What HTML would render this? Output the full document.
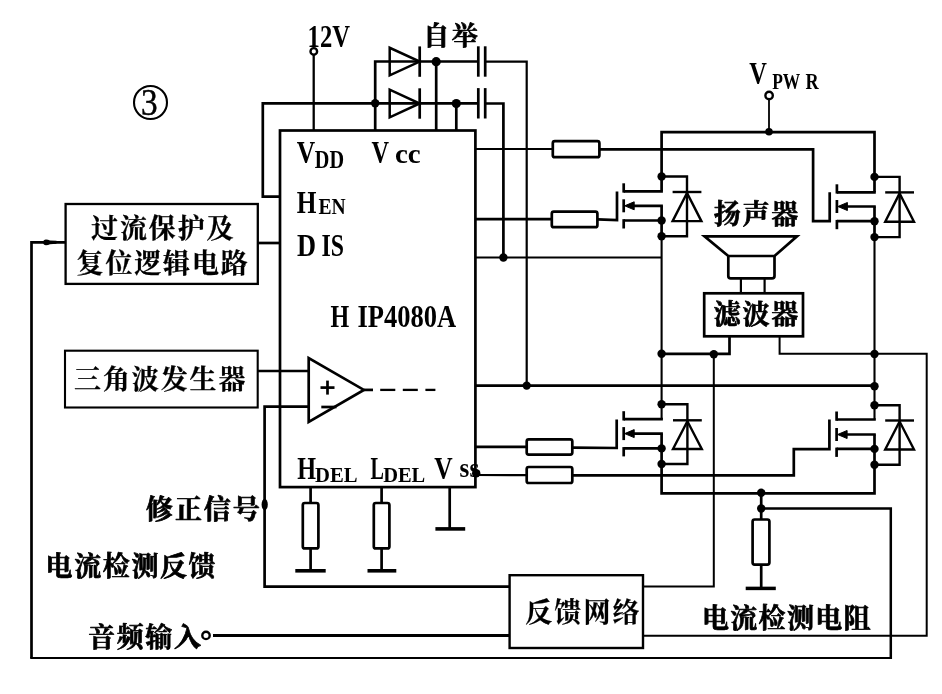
<!DOCTYPE html>
<html lang="zh-CN">
<head>
<meta charset="utf-8">
<title>HIP4080A 电路框图</title>
<style>
html,body{margin:0;padding:0;background:#fff;}
body{width:942px;height:694px;overflow:hidden;}
svg{display:block;position:absolute;left:0;top:0;will-change:transform;}
.w{fill:none;stroke:#000;stroke-width:2.7;stroke-linejoin:miter;stroke-linecap:butt;}
.w .d{fill:#000;stroke:none;}
text{fill:#000;white-space:pre;}
.c{font-family:'Liberation Serif','Noto Serif CJK SC',serif;font-weight:700;stroke:#000;stroke-width:0.7px;stroke-linejoin:round;}
.m{font-family:'Liberation Serif','Noto Serif CJK SC',serif;font-weight:700;stroke:#000;stroke-width:0.25px;stroke-linejoin:round;}
.l{font-family:'Liberation Serif',serif;font-weight:700;}
.l3{font-family:'Liberation Serif',serif;font-weight:400;stroke:#000;stroke-width:0.5px;}
</style>
</head>
<body>
<svg width="942" height="694" viewBox="0 0 942 694">
<g class="w" id="wires">
<rect x="280" y="130.5" width="195.4" height="356.6"/>
<path d="M313.7 54L313.7 130.5" stroke-width="2.3"/>
<circle cx="313.8" cy="51.4" r="3.3" stroke-width="2.4" fill="#fff"/>
<path d="M280 196.6L262.8 196.6L262.8 103.3L478.3 103.3"/>
<path d="M478.3 61.5L375.2 61.5L375.2 130.5"/>
<circle cx="375.2" cy="103.3" r="4.2" class="d"/>
<path d="M389.7 47.8L389.7 75.4L419.7 61.6Z" stroke-width="2.5"/>
<path d="M419.7 46.4L419.7 76.8"/>
<path d="M389.7 89.7L389.7 117.3L419.7 103.5Z" stroke-width="2.5"/>
<path d="M419.7 88.3L419.7 118.7"/>
<circle cx="436.2" cy="61.7" r="4.6" class="d"/>
<path d="M436.2 61.5L436.2 130.5"/>
<circle cx="456.3" cy="103.6" r="4.6" class="d"/>
<path d="M456.3 103.3L456.3 130.5"/>
<path d="M478.3 46.3L478.3 76.7"/>
<path d="M485.2 46.3L485.2 76.7"/>
<path d="M478.3 88.1L478.3 118.5"/>
<path d="M485.2 88.1L485.2 118.5"/>
<path d="M485.2 61.6L526.7 61.6L526.7 385.6" stroke-width="2.2"/>
<path d="M485.2 103.5L503.4 103.5L503.4 257.5"/>
<rect x="65.6" y="204" width="192.2" height="79.9" stroke-width="2.3"/>
<path d="M257.8 243L280 243"/>
<path d="M65.6 242.3L31.5 242.3L31.5 658" stroke-width="2.7"/>
<path d="M30.2 658L890.8 658" stroke-width="2"/>
<path d="M890.8 659L890.8 508.5L761.2 508.5" stroke-width="2.5"/>
<path d="M43 242.3Q43.3 239.4 46 239.4Q48 239.4 50 240.4L56.5 240.8V243.8L50 244.2Q48 245.2 46 245.2Q43.3 245.2 43 242.3Z" class="d"/>
<rect x="65" y="350.7" width="192.7" height="56.8" stroke-width="2.1"/>
<path d="M257.7 371L308.7 371"/>
<path d="M308.7 358L308.7 422L363.9 389.9Z"/>
<path d="M308.7 406.6L264.6 406.6L264.6 586.6L509.6 586.6"/>
<ellipse cx="264.7" cy="504.5" rx="3.1" ry="5.8" class="d"/>
<path d="M321.3 407L336.5 407"/>
<path d="M320.5 387.6L334.5 387.6"/>
<path d="M327.5 380.6L327.5 394.6"/>
<path d="M363.9 389.9L373 389.9"/>
<path d="M380.2 389.9L395.3 389.9" stroke-width="2.3"/>
<path d="M402.8 389.9L417.8 389.9" stroke-width="2.3"/>
<path d="M425.4 389.9L435.4 389.9" stroke-width="2.3"/>
<path d="M475 149L552.8 149" stroke-width="2.1"/>
<rect x="552.8" y="141.2" width="46.6" height="16" rx="2"/>
<path d="M599.4 149.4L813.1 149.4L813.1 221.2L829.7 221.2L829.7 192.3"/>
<path d="M475 219.1L551.8 219.1"/>
<rect x="551.8" y="211.6" width="45.6" height="15.6" rx="2"/>
<path d="M597.4 219.4L617 220L617 191.6"/>
<path d="M475 257.5L661.6 257.5" stroke-width="2.1"/>
<circle cx="503.4" cy="257.5" r="4.2" class="d"/>
<path d="M475 385.6L874.5 385.6"/>
<circle cx="526.7" cy="385.6" r="4.2" class="d"/>
<circle cx="874.5" cy="386.3" r="4.2" class="d"/>
<path d="M475 446.8L526.7 446.8"/>
<rect x="526.7" y="439.4" width="45.6" height="15.2" rx="2"/>
<path d="M572.3 447.6L616.7 448L616.7 419.5"/>
<circle cx="476.2" cy="473.2" r="4.2" class="d"/>
<path d="M475 475L526.7 475.2" stroke-width="2.2"/>
<rect x="526.7" y="467" width="45.6" height="16" rx="2"/>
<path d="M572.3 475.3L793.8 475.3L793.8 449.1L829.4 449.1L829.4 419.5"/>
<path d="M661.6 191.3L661.6 132.1L874.5 132.1L874.5 192.3"/>
<path d="M769 99L769 131.9" stroke-width="1.8"/>
<circle cx="769.1" cy="95.5" r="3.7" stroke-width="2.4" fill="#fff"/>
<circle cx="769" cy="131.8" r="3.8" class="d"/>
<path d="M623.7 183.3L623.7 192.6"/>
<path d="M623.7 199.3L623.7 212.3"/>
<path d="M623.7 219.2L623.7 228.5"/>
<path d="M623.7 191.3L662.9 191.3"/>
<path d="M623.7 220.5L661.6 220.5"/>
<path d="M629.7 205.8L662.9 205.8"/>
<path d="M624.7 205.8L634.2 201.8L634.2 209.8Z" stroke-width="1" fill="#000"/>
<path d="M661.6 205.8L661.6 236.2"/>
<circle cx="661.6" cy="176.5" r="4.2" class="d"/>
<circle cx="661.6" cy="220.5" r="4.2" class="d"/>
<circle cx="661.6" cy="236.2" r="4.2" class="d"/>
<path d="M661.6 176.5L687 176.5L687 236.2L661.6 236.2" stroke-width="2.4"/>
<path d="M687 193L672.6 221.1L701.4 221.1Z" stroke-width="2.4"/>
<path d="M672.6 192L701.4 192" stroke-width="2.4"/>
<path d="M836.9 184.3L836.9 193.6"/>
<path d="M836.9 200L836.9 213"/>
<path d="M836.9 219.9L836.9 229.2"/>
<path d="M836.9 192.3L875.8 192.3"/>
<path d="M836.9 221.2L874.5 221.2"/>
<path d="M842.9 206.5L875.8 206.5"/>
<path d="M837.9 206.5L847.4 202.5L847.4 210.5Z" stroke-width="1" fill="#000"/>
<path d="M874.5 206.5L874.5 237.1"/>
<circle cx="874.5" cy="176.9" r="4.2" class="d"/>
<circle cx="874.5" cy="221.2" r="4.2" class="d"/>
<circle cx="874.5" cy="237.1" r="4.2" class="d"/>
<path d="M874.5 176.9L899.6 176.9L899.6 237.1L874.5 237.1" stroke-width="2.4"/>
<path d="M899.6 193.4L885.2 221.8L914 221.8Z" stroke-width="2.4"/>
<path d="M885.2 192.4L914 192.4" stroke-width="2.4"/>
<path d="M623.7 411.2L623.7 420.5"/>
<path d="M623.7 427.1L623.7 440.1"/>
<path d="M623.7 447.1L623.7 456.4"/>
<path d="M623.7 419.2L662.9 419.2"/>
<path d="M623.7 448.4L661.6 448.4"/>
<path d="M629.7 433.6L662.9 433.6"/>
<path d="M624.7 433.6L634.2 429.6L634.2 437.6Z" stroke-width="1" fill="#000"/>
<path d="M661.6 433.6L661.6 464"/>
<circle cx="661.6" cy="404.3" r="4.2" class="d"/>
<circle cx="661.6" cy="448.4" r="4.2" class="d"/>
<circle cx="661.6" cy="464" r="4.2" class="d"/>
<path d="M661.6 404.3L687.4 404.3L687.4 464L661.6 464" stroke-width="2.4"/>
<path d="M687.4 421.3L673 449L701.8 449Z" stroke-width="2.4"/>
<path d="M673 420.3L701.8 420.3" stroke-width="2.4"/>
<path d="M836.6 411.5L836.6 420.8"/>
<path d="M836.6 428L836.6 441"/>
<path d="M836.6 447.6L836.6 456.9"/>
<path d="M836.6 419.5L875.8 419.5"/>
<path d="M836.6 448.9L874.5 448.9"/>
<path d="M842.6 434.5L875.8 434.5"/>
<path d="M837.6 434.5L847.1 430.5L847.1 438.5Z" stroke-width="1" fill="#000"/>
<path d="M874.5 434.5L874.5 464.7"/>
<circle cx="874.5" cy="405.2" r="4.2" class="d"/>
<circle cx="874.5" cy="448.9" r="4.2" class="d"/>
<circle cx="874.5" cy="464.7" r="4.2" class="d"/>
<path d="M874.5 405.2L899.6 405.2L899.6 464.7L874.5 464.7" stroke-width="2.4"/>
<path d="M899.6 421.5L885.2 449.5L914 449.5Z" stroke-width="2.4"/>
<path d="M885.2 420.5L914 420.5" stroke-width="2.4"/>
<path d="M661.6 236L661.6 419.2" stroke-width="2.1"/>
<path d="M874.5 237L874.5 419.5" stroke-width="2.1"/>
<path d="M661.6 464L661.6 493.3L874.5 493.3L874.5 464"/>
<path d="M704.5 236.3L797 236.3L774.5 256L728.3 256Z"/>
<path d="M728.3 256V276Q728.3 278.4 730.7 278.4H772Q774.5 278.4 774.5 276V256"/>
<path d="M740.9 278L740.9 293" stroke-width="2.2"/>
<path d="M764.6 278L764.6 293" stroke-width="2.2"/>
<rect x="704.2" y="293.3" width="98.8" height="43"/>
<circle cx="661.6" cy="353.7" r="4.2" class="d"/>
<path d="M661.6 353.9L729.5 353.9L729.5 336.5"/>
<circle cx="713.8" cy="354.2" r="4.2" class="d"/>
<path d="M713.8 354L713.8 586.5L643 586.5" stroke-width="2"/>
<path d="M779.6 336.5L779.6 353.7L926.7 353.7L926.7 635.7L643 635.7" stroke-width="2"/>
<circle cx="874.5" cy="354" r="4.2" class="d"/>
<circle cx="761.2" cy="492.8" r="4.2" class="d"/>
<circle cx="761.2" cy="508.5" r="4.2" class="d"/>
<path d="M761.2 493L761.2 519.5"/>
<rect x="752.6" y="519.5" width="16.8" height="45.1" rx="2"/>
<path d="M761.2 564.6L761.2 588"/>
<path d="M745.7 588.4L775.8 588.4" stroke-width="3.5"/>
<rect x="509.6" y="575.2" width="133.4" height="72.8" stroke-width="2.4"/>
<path d="M213 635.5L509.6 635.5" stroke-width="2.8"/>
<circle cx="206" cy="635.4" r="3.7" stroke-width="2.4" fill="#fff"/>
<path d="M310.6 487L310.6 503.5"/>
<rect x="302.8" y="503" width="15.6" height="45.4" rx="2"/>
<path d="M310.6 548L310.6 571"/>
<path d="M295.3 570.8L325.7 570.8" stroke-width="3.6"/>
<path d="M381.6 487L381.6 503.5"/>
<rect x="373.8" y="503" width="15.6" height="45.4" rx="2"/>
<path d="M381.6 548L381.6 571"/>
<path d="M367.5 570.8L396.3 570.8" stroke-width="3.6"/>
<path d="M449.7 487L449.7 528.9"/>
<path d="M435.4 528.9L465.2 528.9" stroke-width="3.6"/>
<circle cx="150.5" cy="102.5" r="16.5" stroke-width="2.1"/>
</g>
<g id="labels">
<text class="m" x="91.0" y="238.1" font-size="27.0" textLength="142.6" lengthAdjust="spacing">过流保护及</text>
<text class="m" x="76.6" y="272.9" font-size="27.0" textLength="171.2" lengthAdjust="spacing">复位逻辑电路</text>
<text class="m" x="74.0" y="388.9" font-size="27.0" textLength="171.5" lengthAdjust="spacing">三角波发生器</text>
<text class="c" x="146.0" y="519.0" font-size="27.0" textLength="113.7" lengthAdjust="spacing">修正信号</text>
<text class="c" x="45.6" y="576.4" font-size="27.0" textLength="170.0" lengthAdjust="spacing">电流检测反馈</text>
<text class="c" x="88.0" y="647.3" font-size="27.0" textLength="112.9" lengthAdjust="spacing">音频输入</text>
<text class="m" x="525.2" y="621.6" font-size="27.0" textLength="114.3" lengthAdjust="spacing">反馈网络</text>
<text class="c" x="702.0" y="628.2" font-size="27.0" textLength="168.5" lengthAdjust="spacing">电流检测电阻</text>
<text class="c" x="713.8" y="224.0" font-size="27.0" textLength="84.4" lengthAdjust="spacing">扬声器</text>
<text class="c" x="713.8" y="324.4" font-size="27.0" textLength="84.4" lengthAdjust="spacing">滤波器</text>
<text class="c" x="423.2" y="45.0" font-size="26.0" textLength="54.6" lengthAdjust="spacing">自举</text>
<text class="l" x="307.6" y="47.0" font-size="31.0" textLength="42.3" lengthAdjust="spacingAndGlyphs">12V</text>
<text class="l"><tspan x="749.2" y="83.8" font-size="31.0" textLength="17.6" lengthAdjust="spacingAndGlyphs">V</tspan><tspan x="772.2" y="88.8" font-size="23.0" textLength="28.1" lengthAdjust="spacingAndGlyphs">PW</tspan><tspan x="805.6" y="88.8" font-size="23.0" textLength="13.2" lengthAdjust="spacingAndGlyphs">R</tspan></text>
<text class="l"><tspan x="296.8" y="162.6" font-size="31.0" textLength="18.4" lengthAdjust="spacingAndGlyphs">V</tspan><tspan x="314.8" y="167.6" font-size="25.0" textLength="29.2" lengthAdjust="spacingAndGlyphs">DD</tspan></text>
<text class="l"><tspan x="371.6" y="162.6" font-size="31.0" textLength="17.5" lengthAdjust="spacingAndGlyphs">V</tspan><tspan x="395.0" y="162.6" font-size="28.0" textLength="25.7" lengthAdjust="spacingAndGlyphs">cc</tspan></text>
<text class="l"><tspan x="296.8" y="213.4" font-size="31.0" textLength="19.7" lengthAdjust="spacingAndGlyphs">H</tspan><tspan x="318.4" y="214.4" font-size="24.0" textLength="27.2" lengthAdjust="spacingAndGlyphs">EN</tspan></text>
<text class="l"><tspan x="297.0" y="256.2" font-size="31.0" textLength="19.0" lengthAdjust="spacingAndGlyphs">D</tspan><tspan x="321.4" y="256.2" font-size="31.0" textLength="22.5" lengthAdjust="spacingAndGlyphs">IS</tspan></text>
<text class="l"><tspan x="330.6" y="327.0" font-size="31.0" textLength="18.7" lengthAdjust="spacingAndGlyphs">H</tspan><tspan x="357.4" y="327.0" font-size="31.0" textLength="98.7" lengthAdjust="spacingAndGlyphs">IP4080A</tspan></text>
<text class="l"><tspan x="297.2" y="478.6" font-size="31.0" textLength="18.8" lengthAdjust="spacingAndGlyphs">H</tspan><tspan x="315.0" y="482.0" font-size="22.0" textLength="42.5" lengthAdjust="spacingAndGlyphs">DEL</tspan></text>
<text class="l"><tspan x="370.4" y="478.6" font-size="31.0" textLength="13.4" lengthAdjust="spacingAndGlyphs">L</tspan><tspan x="383.2" y="482.0" font-size="22.0" textLength="42.1" lengthAdjust="spacingAndGlyphs">DEL</tspan></text>
<text class="l"><tspan x="434.2" y="478.6" font-size="31.0" textLength="18.4" lengthAdjust="spacingAndGlyphs">V</tspan><tspan x="459.6" y="477.4" font-size="27.0" textLength="19.6" lengthAdjust="spacingAndGlyphs">ss</tspan></text>
<text class="l3" x="141.0" y="115.4" font-size="38.0" textLength="16.6" lengthAdjust="spacingAndGlyphs">3</text>
</g>
</svg>
</body>
</html>
